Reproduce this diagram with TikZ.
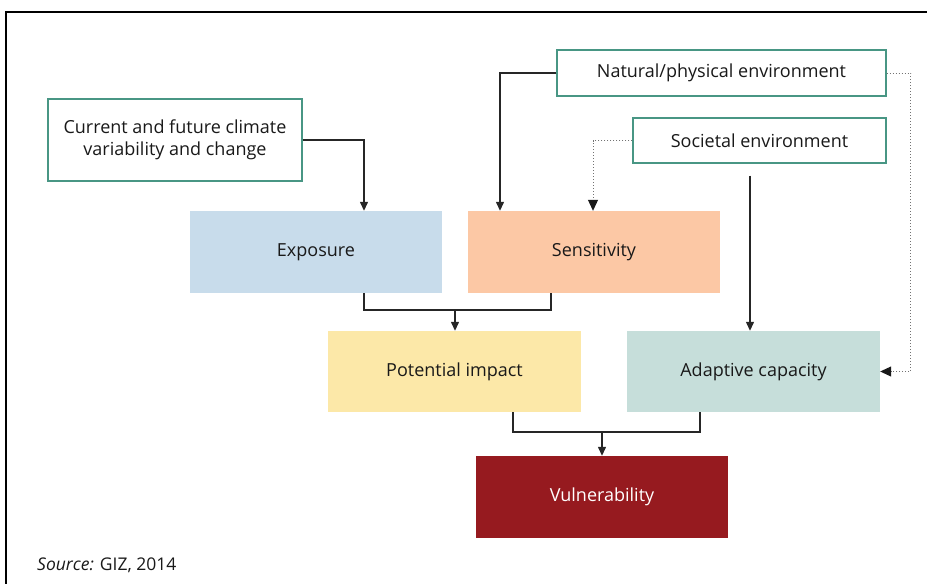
\documentclass[tikz,border=0pt]{standalone}
\usepackage{fontspec}
\setmainfont{Open Sans}
\usepackage{tikz}
\usetikzlibrary{arrows.meta}

\definecolor{framegreen}{RGB}{72,150,132}
\definecolor{expoblue}{RGB}{200,220,235}
\definecolor{senspeach}{RGB}{252,200,165}
\definecolor{potyellow}{RGB}{252,232,168}
\definecolor{adapgreen}{RGB}{198,222,218}
\definecolor{vulnred}{RGB}{150,26,31}

\tikzset{
	srcbox/.style={draw=framegreen, line width=1.3pt, fill=white, align=center, inner sep=0pt},
	factor/.style={minimum width=252pt, minimum height=82pt, inner sep=0pt},
	link/.style={line width=1.3pt, black!85},
	dotlink/.style={line width=1pt, black!55, dotted, -{Triangle[length=11pt,width=10pt,color=black!90]}},
}

\begin{document}
\begin{tikzpicture}[x=1pt,y=-1pt,>={Triangle[length=9pt,width=8pt]}, font=\fontsize{18}{22}\selectfont, text=black!90]
		\useasboundingbox (0,0) rectangle (927,584);
		\draw[line width=1.5pt] (6,584) -- (6,12) -- (927,12);
		
		\node[srcbox, minimum width=254pt, minimum height=82pt] (clim) at (175,140) {Current and future climate\\variability and change};
		\node[srcbox, minimum width=329pt, minimum height=46pt] (nat) at (721.5,73) {Natural/physical environment};
		\node[srcbox, minimum width=253pt, minimum height=45pt] (soc) at (759.5,140.5) {Societal environment};
		
		\node[factor, fill=expoblue] (expo) at (316,252) {Exposure};
		\node[factor, fill=senspeach] (sens) at (594,252) {Sensitivity};
		\node[factor, fill=potyellow, minimum width=253pt, minimum height=81pt] (pot) at (454.5,371.5) {Potential impact};
		\node[factor, fill=adapgreen, minimum width=253pt, minimum height=81pt] (adap) at (753.5,371.5) {Adaptive capacity};
		\node[factor, fill=vulnred, text=white] (vuln) at (602,497) {Vulnerability};
		
		\node[anchor=west, inner sep=0pt, font=\fontsize{17.5}{21}\selectfont] (src) at (37,565) {\textit{Source:} GIZ, 2014};
		
		\coordinate (j1) at (455,310);
		\coordinate (j2) at (602,432);
		
		\draw[link,->] (clim.east) -| ([xshift=48]expo.north);
		\draw[link,->] (nat.west) -| ([xshift=-94]sens.north);
		\draw[dotlink] (soc.west) -| ([xshift=-1]sens.north);
		\draw[link,->] ([yshift=-12]soc.south -| 750,0) -- (750,0 |- adap.north);
		\draw[dotlink] (nat.east) -- ++(24,0) |- (adap.east);
		
		\draw[link] ([xshift=48]expo.south) |- (j1) -| ([xshift=-43]sens.south);
		\draw[link,->] (j1) -- (pot.north -| j1);
		\draw[link] ([xshift=58.5]pot.south) |- (j2) -| ([xshift=-53.5]adap.south);
		\draw[link,->] (j2) -- (vuln.north -| j2);
		
	\end{tikzpicture}
\end{document}
